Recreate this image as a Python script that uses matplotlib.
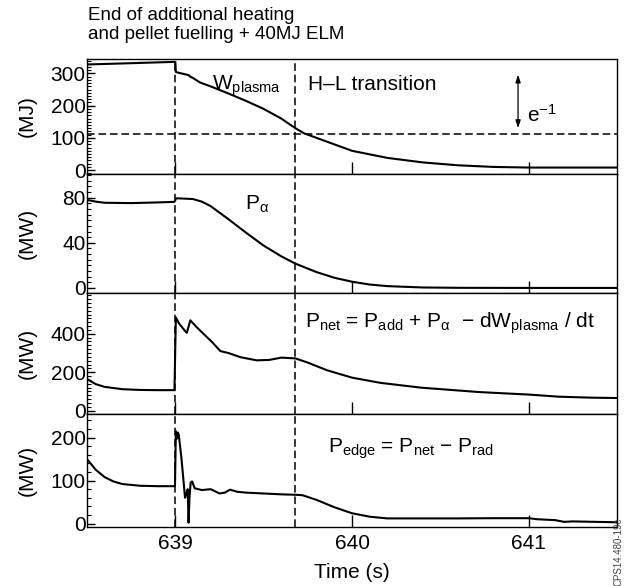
import numpy as np
import matplotlib
matplotlib.use("Agg")
import matplotlib.pyplot as plt

plt.rcParams['font.family'] = ['Liberation Sans', 'DejaVu Sans']
plt.rcParams['mathtext.fontset'] = 'custom'
plt.rcParams['mathtext.rm'] = 'Liberation Sans'
plt.rcParams['mathtext.it'] = 'Liberation Sans'
plt.rcParams['mathtext.default'] = 'regular'

# Datos (tiempo en s)
t_w = [638.5, 638.75, 638.99, 639.0, 639.003, 639.02, 639.06, 639.075, 639.085, 639.1,
       639.14, 639.2, 639.3, 639.4, 639.5, 639.6, 639.68, 639.73, 639.85, 640.0,
       640.2, 640.4, 640.6, 640.8, 641.0, 641.2, 641.5]
w_plasma = [328, 332, 336, 336, 305, 302, 297, 295, 290, 286,
            272, 260, 238, 215, 190, 160, 130, 114, 90, 60,
            38, 24, 15, 10, 8, 8, 8]

t_alpha = [638.5, 638.55, 638.6, 638.75, 638.9, 638.995, 639.005, 639.1, 639.15, 639.2,
           639.3, 639.4, 639.5, 639.6, 639.68, 639.8, 639.9, 640.0, 640.1, 640.2,
           640.4, 640.6, 641.0, 641.5]
p_alpha = [78, 76.5, 75.5, 75.2, 75.8, 76.3, 79.5, 78.8, 76.5, 72.5,
           61, 49, 37.5, 28, 21.5, 14, 9, 5.5, 3, 1.6,
           0.4, 0.1, 0, 0]

t_net = [638.5, 638.55, 638.6, 638.7, 638.8, 638.9, 638.995, 639.003, 639.02, 639.05,
         639.065, 639.085, 639.12, 639.165, 639.21, 639.255, 639.3, 639.37, 639.46, 639.53,
         639.6, 639.68, 639.75, 639.86, 640.0, 640.16, 640.39, 640.72, 641.0, 641.17,
         641.35, 641.5]
p_net = [165, 138, 124, 112, 108, 107, 107, 485, 455, 420,
         405, 470, 435, 395, 355, 310, 300, 278, 262, 264,
         276, 272, 250, 210, 172, 145, 120, 97, 84, 73,
         68, 66]

t_edge = [638.5, 638.55, 638.6, 638.65, 638.7, 638.8, 638.9, 638.998, 639.003, 639.01,
          639.015, 639.02, 639.035, 639.055, 639.065, 639.07, 639.075, 639.08, 639.087, 639.095,
          639.11, 639.15, 639.2, 639.25, 639.28, 639.31, 639.35, 639.4, 639.5, 639.6,
          639.68, 639.72, 639.8, 639.9, 640.0, 640.1, 640.2, 640.4, 640.6, 640.8,
          641.0, 641.05, 641.15, 641.2, 641.25, 641.5]
p_edge = [150, 125, 108, 98, 92, 88, 87, 87, 215, 198,
          212, 205, 150, 60, 72, 80, 2, 60, 96, 98,
          82, 78, 80, 70, 72, 79, 74, 72, 70, 68,
          67, 66, 55, 38, 24, 16, 12, 12, 12, 12.5,
          12.5, 10, 8, 4, 5, 3]

t_elm = 639.0
t_hl = 639.68
w_efold = 113

fig = plt.figure(figsize=(6.24, 5.86), dpi=100)
H = 586.0
edges = [59, 174, 293, 414, 527]
left = 87 / 624.0
width = 530 / 624.0
axs = []
for i in range(4):
    ax = fig.add_axes([left, 1 - edges[i + 1] / H, width, (edges[i + 1] - edges[i]) / H])
    axs.append(ax)

series = [(t_w, w_plasma), (t_alpha, p_alpha), (t_net, p_net), (t_edge, p_edge)]
ylims = [(-12, 345), (-4.5, 101), (-17, 612), (-8, 255)]
yticks = [[0, 100, 200, 300], [0, 40, 80], [0, 200, 400], [0, 100, 200]]
yminor = [10, 5, 20, 20]
ylabels = ['(MJ)', '(MW)', '(MW)', '(MW)']
fs = 15

dash = (0, (5, 2.5))
for ax, (t, v), yl, yt, ym, lab in zip(axs, series, ylims, yticks, yminor, ylabels):
    ax.plot(t, v, color='black', lw=1.5)
    ax.axvline(t_elm, color='black', lw=1.1, ls=dash)
    ax.axvline(t_hl, color='black', lw=1.1, ls=dash)
    ax.set_xlim(638.5, 641.5)
    ax.set_ylim(*yl)
    ax.set_yticks(yt)
    ax.yaxis.set_minor_locator(matplotlib.ticker.MultipleLocator(ym))
    ax.set_xticks([639, 640, 641])
    ax.tick_params(axis='y', which='major', direction='in', length=6, width=1, labelsize=fs, pad=1)
    ax.tick_params(axis='y', which='minor', direction='in', length=3, width=0.8)
    ax.tick_params(axis='x', which='major', direction='in', length=9, width=1, labelsize=fs, pad=5)
    ax.tick_params(axis='x', which='minor', bottom=False)
    ax.set_ylabel(lab, fontsize=fs)
    ax.yaxis.set_label_coords(-0.095, 0.5)
    for s in ax.spines.values():
        s.set_linewidth(1.0)
    if ax is not axs[-1]:
        ax.tick_params(axis='x', labelbottom=False)

axs[-1].set_xlabel('Time (s)', fontsize=fs, labelpad=7)

# Panel 1
a = axs[0]
a.axhline(w_efold, color='black', lw=1.1, ls=dash)
a.text(0.236, 0.73, r'W$_{plasma}$', transform=a.transAxes, fontsize=fs)
a.text(0.417, 0.73, 'H–L transition', transform=a.transAxes, fontsize=fs)
a.annotate('', xy=(640.94, 122), xytext=(640.94, 305),
           arrowprops=dict(arrowstyle='<|-|>,head_length=0.45,head_width=0.15', color='black', lw=0.9))
a.text(640.99, 150, r'e$^{-1}$', fontsize=fs)

axs[1].text(0.298, 0.70, r'P$_{\alpha}$', transform=axs[1].transAxes, fontsize=fs)
axs[2].text(0.411, 0.71, r'P$_{net}$ = P$_{add}$ + P$_{\alpha}$  − dW$_{plasma}$ / dt',
            transform=axs[2].transAxes, fontsize=fs)
axs[3].text(0.455, 0.66, r'P$_{edge}$ = P$_{net}$ − P$_{rad}$',
            transform=axs[3].transAxes, fontsize=fs)

fig.text(88 / 624.0, 1 - 7 / H, 'End of additional heating\nand pellet fuelling + 40MJ ELM',
         fontsize=13.5, va='top', ha='left', linespacing=1.12)
fig.text(0.999, 0.0, 'CPS14.480-19c', rotation=90, ha='right', va='bottom', fontsize=7, color='#444444')

fig.savefig('out.png', dpi=100)
